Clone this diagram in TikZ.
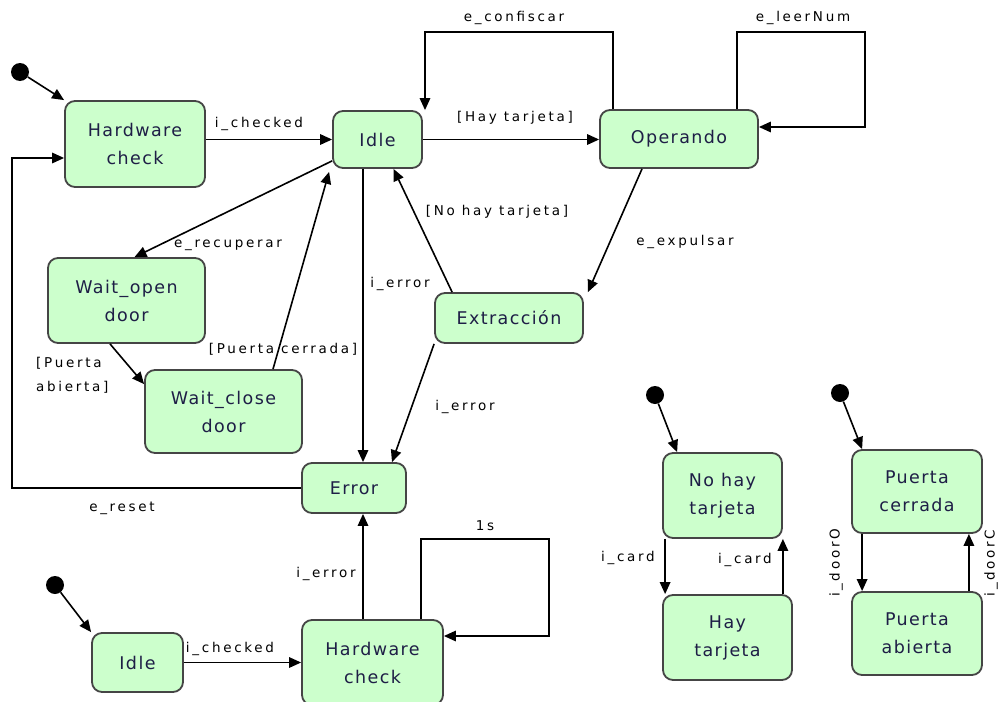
\documentclass[tikz,border=0pt]{standalone}
\usepackage{fontspec}
\setmainfont{DejaVu Sans}
\newfontfamily\statefamily[LetterSpace=8]{DejaVu Sans}
\newfontfamily\lblfamily[LetterSpace=20]{DejaVu Sans}
\usetikzlibrary{arrows.meta,calc}
\definecolor{boxfill}{HTML}{CCFFCC}
\definecolor{boxline}{HTML}{454545}
\definecolor{nodetext}{HTML}{1E1E46}
\tikzset{
  state/.style={draw=boxline, fill=boxfill, rounded corners=10pt, line width=1.8pt,
    align=center, inner sep=0pt, text=nodetext, font=\statefamily\fontsize{17.5}{28}\selectfont},
  initdot/.style={circle, fill=black, inner sep=0pt, minimum size=18pt},
  trans/.style={draw=black, line width=1.6pt, -{Triangle[length=12pt,width=10.5pt]}},
  lbl/.style={inner sep=0pt, text=black, font=\lblfamily\fontsize{13.5}{24}\selectfont},
}
\begin{document}
\begin{tikzpicture}[x=1pt, y=-1pt]
\useasboundingbox (0,0) rectangle (1000,701);

% ---- main machine ----
\node[initdot] (d1) at (20,72) {};
\node[state, minimum width=140pt, minimum height=86pt] (hw1) at (135,144) {Hardware\\check};
\node[state, minimum width=89pt, minimum height=57pt] (idle1) at (377.5,139.5) {Idle};
\node[state, minimum width=158pt, minimum height=58pt] (op) at (679,139) {Operando};
\node[state, minimum width=157pt, minimum height=85pt] (wo) at (126.5,300.5) {Wait\_open\\door};
\node[state, minimum width=157pt, minimum height=83pt] (wc) at (223.5,411.5) {Wait\_close\\door};
\node[state, minimum width=104pt, minimum height=50pt] (err) at (354,488) {Error};
\node[state, minimum width=148pt, minimum height=50pt] (ext) at (509,318) {Extracción};

% waypoints of the bent connectors
\coordinate (cf1) at (613,32);
\coordinate (cf2) at (425,32);
\coordinate (ln1) at (737,32);
\coordinate (ln2) at (865,32);
\coordinate (ln3) at (865,127);
\coordinate (rs1) at (12,488);
\coordinate (rs2) at (12,158);

\draw[trans] (d1) -- (hw1.north west);
\draw[trans] (hw1.east |- idle1.west) -- (idle1.west);
\draw[trans] (idle1.east) -- (idle1.east -| op.west);
\draw[trans] (op.north -| cf1) -- (cf1) -- (cf2) -- (cf2 |- idle1.north);
\draw[trans] (op.north -| ln1) -- (ln1) -- (ln2) -- (ln3) -- (ln3 -| op.east);
\draw[trans] ([xshift=-37pt]op.south) -- ([xshift=4pt]ext.north east);
\draw[trans] ([xshift=18pt]ext.north west) -- ([xshift=16pt]idle1.south);
\draw[trans] ([yshift=8pt]idle1.south west) -- ([xshift=8pt]wo.north);
\draw[trans] ([xshift=49.5pt]wc.north) -- ([xshift=-3pt,yshift=-3pt]idle1.south west);
\draw[trans] ([xshift=-16.5pt]wo.south) -- ([yshift=-15pt]wc.north west);
\draw[trans] ([xshift=-14.5pt]idle1.south) -- ([xshift=9pt]err.north);
\draw[trans] (ext.south west) -- ([xshift=38pt]err.north);
\draw[trans] (err.west) -- (rs1) -- (rs2) -- (rs2 -| hw1.west);

\node[lbl] (t1) at (259,124) {i\_checked};
\node[lbl] (t2) at (515,118) {[Hay tarjeta]};
\node[lbl] (t3) at (514,18) {e\_confiscar};
\node[lbl] (t4) at (803,18) {e\_leerNum};
\node[lbl] (t5) at (685,242) {e\_expulsar};
\node[lbl] (t6) at (497,212) {[No hay tarjeta]};
\node[lbl] (t7) at (228,245) {e\_recuperar};
\node[lbl] (t8) at (283,349) {[Puerta cerrada]};
\node[lbl, align=left, anchor=north west] (t9) at (36,357) {[Puerta\\abierta]};
\node[lbl] (t10) at (400,284) {i\_error};
\node[lbl] (t11) at (465,407) {i\_error};
\node[lbl] (t12) at (122,508) {e\_reset};

% ---- start-up machine ----
\node[initdot] (d2) at (55,585) {};
\node[state, minimum width=91pt, minimum height=59pt] (idle2) at (137.5,662.5) {Idle};
\node[state, minimum width=141pt, minimum height=85pt] (hw2) at (372.5,662.5) {Hardware\\check};
\coordinate (sl1) at (421,539);
\coordinate (sl2) at (549,539);
\coordinate (sl3) at (549,636);

\draw[trans] (d2) -- (idle2.north west);
\draw[trans] (idle2.east) -- (idle2.east -| hw2.west);
\draw[trans] ([xshift=-9.5pt]hw2.north) -- ([xshift=9pt]err.south);
\draw[trans] (hw2.north -| sl1) -- (sl1) -- (sl2) -- (sl3) -- (sl3 -| hw2.east);

\node[lbl] (t13) at (230,649) {i\_checked};
\node[lbl] (t14) at (326,574) {i\_error};
\node[lbl] (t15) at (485,526) {1s};

% ---- card machine ----
\node[initdot] (d3) at (655,395) {};
\node[state, minimum width=119pt, minimum height=85pt] (nohay) at (722.5,495.5) {No hay\\tarjeta};
\node[state, minimum width=129pt, minimum height=85pt] (hay) at (727.5,637.5) {Hay\\tarjeta};
\draw[trans] (d3) -- ([xshift=15pt]nohay.north west);
\draw[trans] ([xshift=3pt]nohay.south west) -- ([xshift=3pt]hay.north west);
\draw[trans] ([xshift=-10pt]hay.north east) -- (nohay.south east);
\node[lbl] (t16) at (628,558) {i\_card};
\node[lbl] (t17) at (745,560) {i\_card};

% ---- door machine ----
\node[initdot] (d4) at (840,393) {};
\node[state, minimum width=130pt, minimum height=83pt] (pc) at (917,491.5) {Puerta\\cerrada};
\node[state, minimum width=130pt, minimum height=83pt] (pa) at (917,633.5) {Puerta\\abierta};
\draw[trans] (d4) -- ([xshift=11pt]pc.north west);
\draw[trans] ([xshift=11pt]pc.south west) -- ([xshift=11pt]pa.north west);
\draw[trans] ([xshift=-14pt]pa.north east) -- ([xshift=-14pt]pc.south east);
\node[lbl, rotate=90] (t18) at (836,563) {i\_doorO};
\node[lbl, rotate=90] (t19) at (991,563) {i\_doorC};
\end{tikzpicture}
\end{document}
